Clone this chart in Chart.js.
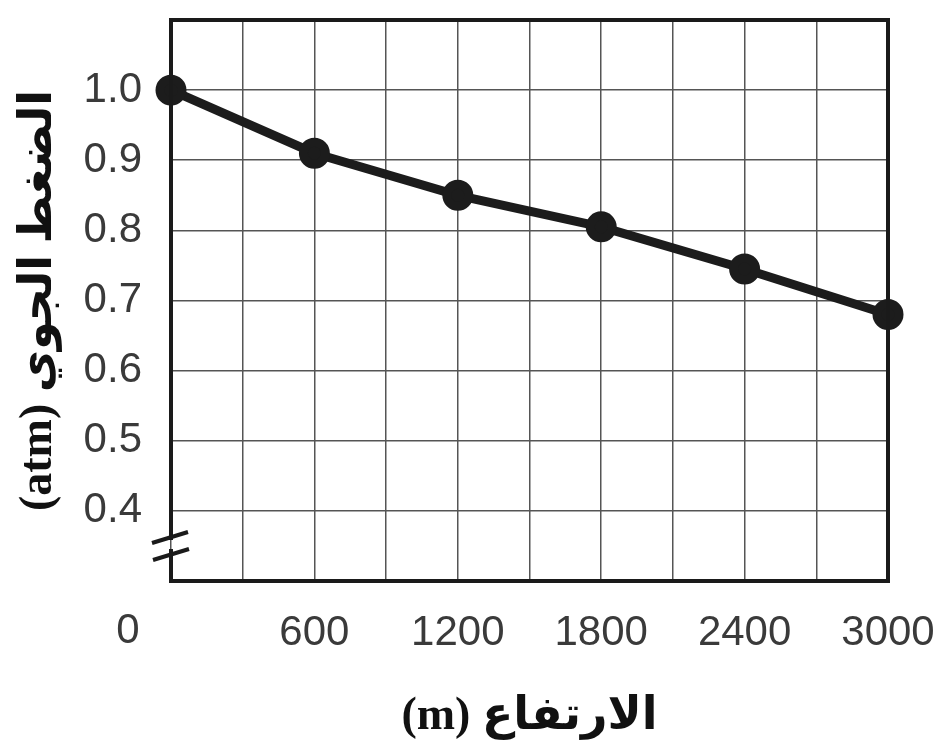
<!DOCTYPE html>
<html>
<head>
<meta charset="utf-8">
<script src="https://cdn.jsdelivr.net/npm/chart.js@4.4.0/dist/chart.umd.min.js"></script>
<style>
  html, body { margin: 0; padding: 0; background: #fff; }
  #wrap { width: 938px; height: 755px; }
</style>
</head>
<body>
<div id="wrap"><canvas id="pressureChart"></canvas></div>
<script>
// altitude (m) and air pressure (atm)
const altitudes = [0, 600, 1200, 1800, 2400, 3000];
const pressures = [1.0, 0.91, 0.85, 0.805, 0.745, 0.68];
const yTickLabels = [0.4, 0.5, 0.6, 0.7, 0.8, 0.9, 1.0];
const xTickLabels = [600, 1200, 1800, 2400, 3000];

const tickFont = { family: "'Liberation Sans', sans-serif", size: 42 };
const titleFont = { family: "'Liberation Serif', 'DejaVu Sans', serif", size: 46, weight: 'bold' };

function noPad(scale) {
  scale.paddingLeft = 0;
  scale.paddingRight = 0;
  scale.paddingTop = 0;
  scale.paddingBottom = 0;
}

// frame with the axis break, plus the "0" that sits left of the axis
const framePlugin = {
  id: 'frame',
  afterDraw(chart) {
    const ctx = chart.ctx;
    const a = chart.chartArea;
    ctx.save();
    ctx.strokeStyle = '#1a1a1a';
    ctx.lineWidth = 4;
    ctx.lineCap = 'square';
    ctx.beginPath();
    ctx.moveTo(a.left, 538);
    ctx.lineTo(a.left, a.top);
    ctx.lineTo(a.right, a.top);
    ctx.lineTo(a.right, a.bottom);
    ctx.lineTo(a.left, a.bottom);
    ctx.lineTo(a.left, 551);
    ctx.stroke();

    ctx.lineCap = 'butt';
    ctx.beginPath();
    ctx.moveTo(152, 543);
    ctx.lineTo(188, 532);
    ctx.moveTo(153, 560);
    ctx.lineTo(189, 549);
    ctx.stroke();

    ctx.fillStyle = '#3a3a3a';
    ctx.font = "42px 'Liberation Sans', sans-serif";
    ctx.textAlign = 'center';
    ctx.textBaseline = 'middle';
    ctx.fillText('0', a.left - 43, 631);
    ctx.restore();
  }
};

new Chart(document.getElementById('pressureChart'), {
  type: 'line',
  data: {
    datasets: [{
      data: altitudes.map((h, i) => ({ x: h, y: pressures[i] })),
      borderColor: '#1c1c1c',
      backgroundColor: '#1c1c1c',
      borderWidth: 9,
      pointRadius: 11,
      pointHoverRadius: 11,
      tension: 0,
      clip: false
    }]
  },
  plugins: [framePlugin],
  options: {
    responsive: true,
    maintainAspectRatio: false,
    animation: false,
    layout: { padding: { left: 0, right: 50, top: 10, bottom: 10 } },
    plugins: { legend: { display: false }, tooltip: { enabled: false } },
    scales: {
      x: {
        type: 'linear',
        min: 0,
        max: 3000,
        afterFit(scale) { scale.height = 755 - 10 - 581; noPad(scale); },
        border: { display: false },
        grid: { color: '#555', lineWidth: 1.5, drawTicks: false },
        ticks: {
          stepSize: 300,
          autoSkip: false,
          maxRotation: 0,
          padding: 27,
          color: '#3a3a3a',
          font: tickFont,
          callback: v => xTickLabels.includes(v) ? String(v) : ''
        },
        title: {
          display: true,
          text: '(m) الارتفاع',
          color: '#111',
          font: titleFont,
          padding: { top: 0, bottom: 0 }
        }
      },
      y: {
        min: 0.3,
        max: 1.1,
        afterFit(scale) { scale.width = 171; noPad(scale); },
        border: { display: false },
        grid: { color: '#555', lineWidth: 1.5, drawTicks: false },
        ticks: {
          stepSize: 0.1,
          autoSkip: false,
          padding: 29,
          color: '#3a3a3a',
          font: tickFont,
          callback: v => {
            const r = Math.round(v * 10) / 10;
            return yTickLabels.includes(r) ? r.toFixed(1) : '';
          }
        },
        title: {
          display: true,
          text: '(atm) الضغط الجوي',
          color: '#111',
          font: titleFont,
          padding: { top: 12, bottom: 0 }
        }
      }
    }
  }
});
</script>
</body>
</html>
